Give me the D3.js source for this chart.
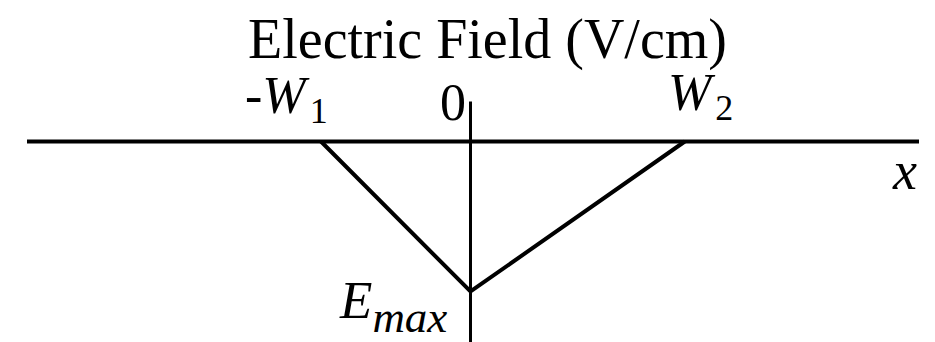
<!DOCTYPE html>
<html>
<head>
<meta charset="utf-8">
<script src="https://cdn.jsdelivr.net/npm/d3@7"></script>
<style>
  html, body { margin: 0; padding: 0; background: #fff; }
  svg { display: block; }
</style>
</head>
<body>
<svg id="chart" width="935" height="342"></svg>
<script>
// Depletion-region field profile: field is zero at -W1 and W2, peaks (negative) at the junction.
const positions = [-3.0, 0, 4.3];        // x at -W1, junction, W2
const fieldValues = [0, -3.0, 0];        // E(x) at those points; -3 is Emax
const tickPositions = [-3.0, 0, 4.3];
const tickMain = ["-", "0", ""];
const tickItalic = ["W", "", "W"];
const tickSub = ["1", "", "2"];
const title = "Electric Field (V/cm)";
const xAxisName = "x";
const peakMain = "E";
const peakSub = "max";

const serif = "'Liberation Serif', 'Times New Roman', Times, 'DejaVu Serif', serif";

const svg = d3.select("#chart")
  .attr("font-family", serif);

const x = d3.scaleLinear().domain([-8.9, 9.0]).range([27, 919]);
const y = d3.scaleLinear().domain([0, -3]).range([141.5, 291.5]);

// horizontal x axis
svg.append("line")
  .attr("x1", x.range()[0]).attr("x2", x.range()[1])
  .attr("y1", y(0)).attr("y2", y(0))
  .attr("stroke", "#000").attr("stroke-width", 4);

// vertical field axis through x = 0
svg.append("line")
  .attr("x1", x(0)).attr("x2", x(0))
  .attr("y1", y(0.8)).attr("y2", y(-4.05))
  .attr("stroke", "#000").attr("stroke-width", 3);

// field profile
const line = d3.line().x((d, i) => x(positions[i])).y(d => y(d));
svg.append("path")
  .datum(fieldValues)
  .attr("d", line)
  .attr("fill", "none")
  .attr("stroke", "#000")
  .attr("stroke-width", 4)
  .attr("stroke-linejoin", "miter");

// title
svg.append("text")
  .attr("x", 487.5).attr("y", 58)
  .attr("text-anchor", "middle")
  .attr("font-family", serif)
  .attr("font-size", 56)
  .text(title);

// tick labels above the axis
const tickX = [245, 440, 668];
const tickY = [113, 119.5, 110];
tickPositions.forEach((p, i) => {
  const t = svg.append("text")
    .attr("x", tickX[i]).attr("y", tickY[i])
    .attr("font-family", serif)
    .attr("font-size", 52);
  if (tickMain[i]) t.append("tspan").text(tickMain[i]);
  if (tickItalic[i]) t.append("tspan").attr("font-style", "italic").text(tickItalic[i]);
  if (tickSub[i]) t.append("tspan").attr("dy", 10).attr("dx", 4).attr("font-size", 36).text(tickSub[i]);
});

// axis name
svg.append("text")
  .attr("x", 893).attr("y", 189)
  .attr("font-family", serif)
  .attr("font-size", 54)
  .attr("font-style", "italic")
  .text(xAxisName);

// peak label
const pk = svg.append("text")
  .attr("x", 340).attr("y", 318)
  .attr("font-family", serif)
  .attr("font-size", 53)
  .attr("font-style", "italic");
pk.append("tspan").text(peakMain);
pk.append("tspan").attr("dy", 14).attr("font-size", 45).text(peakSub);
</script>
</body>
</html>
